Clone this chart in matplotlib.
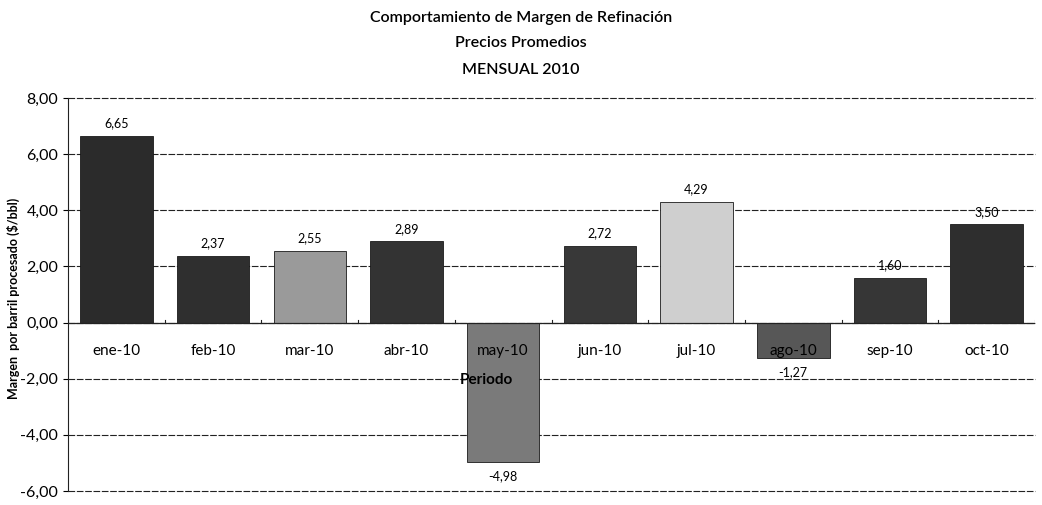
import matplotlib
matplotlib.use("Agg")
import matplotlib.pyplot as plt
import numpy as np

plt.rcParams['font.family'] = ['Lato', 'DejaVu Sans']

categories = ["ene-10", "feb-10", "mar-10", "abr-10", "may-10", "jun-10",
              "jul-10", "ago-10", "sep-10", "oct-10"]
values = [6.65, 2.37, 2.55, 2.89, -4.98, 2.72, 4.29, -1.27, 1.60, 3.50]
bar_colors = ["#2b2b2b", "#2f2f2f", "#9a9a9a", "#333333", "#7a7a7a",
              "#383838", "#cfcfcf", "#575757", "#363636", "#2e2e2e"]
yticks = [8, 6, 4, 2, 0, -2, -4, -6]

def fmt(v):
    return f"{v:.2f}".replace(".", ",")

fig = plt.figure(figsize=(10.42, 5.05), dpi=100)
ax = fig.add_axes([0.0653, 0.0277, 0.928, 0.7783])

x = np.arange(len(categories))
ax.bar(x, values, width=0.75, color=bar_colors, edgecolor="#1a1a1a", linewidth=0.6, zorder=3)

ax.set_xlim(-0.5, len(categories) - 0.5)
ax.set_ylim(-6, 8)
ax.set_yticks(yticks)
ax.set_yticklabels([fmt(v) for v in yticks], fontsize=11.5)
ax.yaxis.grid(False)
for yv in yticks:
    ax.axhline(yv, color="#222222", linestyle=(0, (6, 1.5)), linewidth=0.8, zorder=0, clip_on=False)
ax.set_xticks([])
for s in ["top", "right", "bottom"]:
    ax.spines[s].set_visible(False)
ax.spines["left"].set_color("#222222")
ax.axhline(0, color="#222222", linewidth=0.9, zorder=4)
for xi in np.arange(-0.5, len(categories) + 0.5, 1):
    ax.plot([xi, xi], [0, 0.1], color="#222222", linewidth=0.8, zorder=4)

for xi, v, c in zip(x, values, categories):
    if v >= 0:
        ax.text(xi, v + 0.45, fmt(v), ha="center", va="center", fontsize=9, zorder=5)
    else:
        ax.text(xi, v - 0.5, fmt(v), ha="center", va="center", fontsize=9, zorder=5)
    ax.text(xi, -1.02, c, ha="center", va="center", fontsize=11, zorder=5)

ax.text(3.55, -2.05, "Periodo", ha="left", va="center", fontsize=11, fontweight="bold", zorder=5)

ax.set_ylabel("Margen  por barril procesado ($/bbl)", fontsize=9, fontweight="bold", labelpad=2)
ax.yaxis.set_label_coords(-0.05, 0.49)

fig.text(0.5, 1 - 18 / 505, "Comportamiento de Margen de Refinación", ha="center", va="center", fontsize=11.5, fontweight="semibold")
fig.text(0.5, 1 - 43 / 505, "Precios Promedios", ha="center", va="center", fontsize=11.5, fontweight="semibold")
fig.text(0.5, 1 - 70 / 505, "MENSUAL 2010", ha="center", va="center", fontsize=11.5, fontweight="semibold")

fig.savefig("out.png", dpi=100)
